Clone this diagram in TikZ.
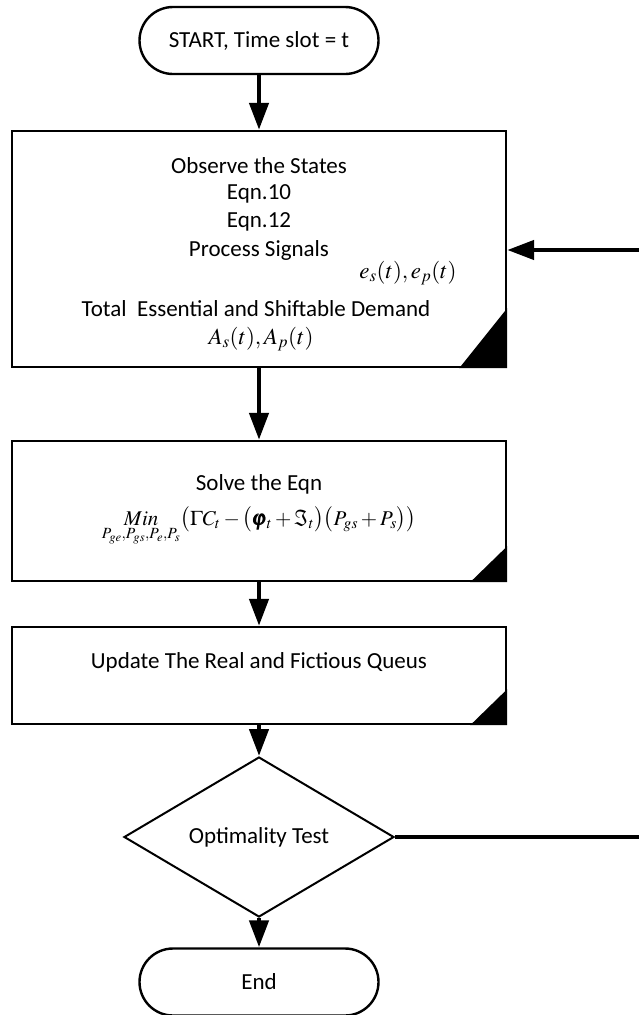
\documentclass[tikz,border=0pt]{standalone}
\usepackage{amsmath}
\usepackage{mathptmx}
\usepackage[no-math]{fontspec}
\setmainfont{Carlito}
\usetikzlibrary{shapes.geometric,arrows.meta}

\begin{document}
\begin{tikzpicture}[x=1pt,y=-1pt,
  txt/.style={font=\fontsize{23}{28}\selectfont, inner sep=0pt},
  mth/.style={font=\fontsize{23}{28}\selectfont, inner sep=0pt},
  term/.style={draw, line width=2.4pt, minimum width=239pt, minimum height=67pt,
    rounded corners=33.5pt, inner sep=0pt, font=\fontsize{23}{28}\selectfont},
  procbox/.style={draw, line width=2.4pt, minimum width=494pt, inner sep=0pt},
  decision/.style={draw, diamond, line width=2pt, minimum width=270pt, minimum height=139pt,
    inner sep=0pt, font=\fontsize{23}{28}\selectfont},
  flow/.style={line width=4.5pt, -{Triangle[length=27pt,width=19pt]}},
  backline/.style={line width=4pt}]

\useasboundingbox (0,0) rectangle (639,1015);

% terminals, process boxes and the test
\node[term] (start) at (259,40.5) {START, Time slot = t};
\node[procbox, minimum height=236pt] (b1) at (259,249) {};
\node[procbox, minimum height=140pt] (b2) at (259,511) {};
\node[procbox, minimum height=97pt] (b3) at (259,675.5) {};
\node[decision] (opt) at (259,837) {Optimality Test};
\node[term] (stop) at (259,982) {End};

% corner marks of the process boxes
\fill ([yshift=60pt]b1.south east) -- (b1.south east) -- ([xshift=-48pt]b1.south east) -- cycle;
\fill ([yshift=36pt]b2.south east) -- (b2.south east) -- ([xshift=-37pt]b2.south east) -- cycle;
\fill ([yshift=36pt]b3.south east) -- (b3.south east) -- ([xshift=-37pt]b3.south east) -- cycle;

% texts of the first box
\node[txt] (t1) at (259,166) {Observe the States};
\node[txt] (t2) at (259,194) {Eqn.10};
\node[txt] (t3) at (259,222) {Eqn.12};
\node[txt] (t4) at (259,250) {Process Signals};
\node[mth] (t5) at (408,273) {$e_s(t),e_p(t)$};
\node[txt] (t6) at (256,309) {Total\ \ Essential and Shiftable Demand};
\node[mth] (t7) at (261,339) {$A_s(t),A_p(t)$};

% texts of the second box
\node[txt] (s1) at (259,484) {Solve the Eqn};
\node[inner sep=0pt, anchor=base, font=\fontsize{21}{26}\selectfont] (s2) at (259,525)
  {$\displaystyle \mathop{Min}\limits_{P_{ge},P_{gs},P_e,P_s}
   \bigl(\Gamma C_t - \bigl(\pmb{\varphi}_t + \Im_t\bigr)\bigl(P_{gs} + P_s\bigr)\bigr)$};

% text of the third box
\node[txt] (u1) at (259,662) {Update The Real and Fictious Queus};

% main flow
\draw[flow] (start) -- (b1);
\draw[flow] (b1) -- (b2);
\draw[flow] (b2) -- (b3);
\draw[flow] (b3) -- (opt);
\draw[flow] (opt) -- (stop);

% loop back from the test
\coordinate (fbout) at (639,837);
\coordinate (fbin) at (639,250);
\draw[backline] (opt.east) -- (fbout);
\draw[flow] (fbin) -- (b1.east |- fbin);

\end{tikzpicture}
\end{document}
